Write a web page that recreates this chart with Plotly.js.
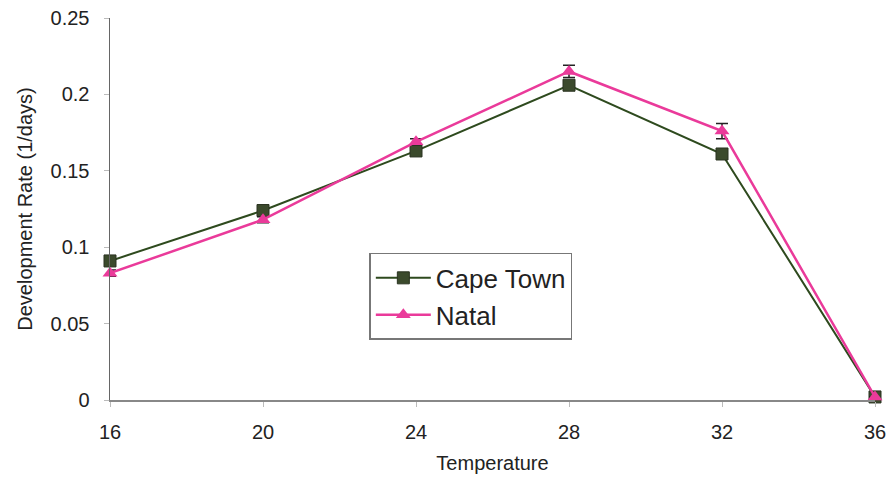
<!DOCTYPE html>
<html>
<head>
<meta charset="utf-8">
<script src="https://cdn.plot.ly/plotly-3.0.1.min.js"></script>
<style>body{margin:0;background:#fff}#chart{width:890px;height:478px}</style>
</head>
<body>
<div id="chart"></div>
<script>
const temperature = [16, 20, 24, 28, 32, 36];
const capeTown = [0.091, 0.124, 0.163, 0.206, 0.161, 0.002];
const natal = [0.083, 0.118, 0.169, 0.215, 0.176, 0.002];
const natalErr = [0.002, 0.002, 0.002, 0.004, 0.005, 0];
const xTicks = [16, 20, 24, 28, 32, 36];
const yTicks = [0, 0.05, 0.1, 0.15, 0.2, 0.25];

const traces = [
  {
    x: temperature, y: capeTown, name: 'Cape Town', type: 'scatter', mode: 'lines+markers',
    line: {color: '#2e4a1e', width: 2},
    marker: {symbol: 'square', size: 12, color: '#3b4a2c', line: {color: '#2a3320', width: 1}},
    cliponaxis: false
  },
  {
    x: temperature, y: natal, name: 'Natal', type: 'scatter', mode: 'lines+markers',
    line: {color: '#ea3a9a', width: 2.5},
    marker: {symbol: 'triangle-up', size: 13, color: '#ea3a9a'},
    error_y: {type: 'data', array: natalErr, symmetric: true, color: '#222', thickness: 1.5, width: 6},
    cliponaxis: false
  }
];

const layout = {
  width: 890, height: 478,
  margin: {l: 110, r: 15, t: 18, b: 78},
  paper_bgcolor: '#fff', plot_bgcolor: '#fff',
  font: {family: 'Liberation Sans, Arial, sans-serif', color: '#222'},
  showlegend: true,
  legend: {
    x: 0.339, y: 0.385, xanchor: 'left', yanchor: 'top',
    bordercolor: '#777', borderwidth: 1.5, bgcolor: '#fff',
    font: {size: 26, color: '#222'}, tracegroupgap: 0, itemwidth: 55
  },
  xaxis: {
    range: [16, 36], tickvals: xTicks, ticktext: xTicks.map(String),
    showgrid: false, zeroline: false, showline: true, linecolor: '#888', linewidth: 1.5,
    ticks: 'outside', ticklen: 5, tickcolor: '#bbb', ticklabelstandoff: 8,
    tickfont: {size: 20, color: '#222'},
    title: {text: 'Temperature', font: {size: 20, color: '#222'}, standoff: 14}
  },
  yaxis: {
    range: [0, 0.25], tickvals: yTicks, ticktext: ['0', '0.05', '0.1', '0.15', '0.2', '0.25'],
    showgrid: false, zeroline: false, showline: true, linecolor: '#666', linewidth: 1.5,
    ticks: 'outside', ticklen: 5, tickcolor: '#bbb', ticklabelstandoff: 10,
    tickfont: {size: 20, color: '#222'},
    title: {text: 'Development Rate (1/days)', font: {size: 20, color: '#222'}, standoff: 12}
  }
};

Plotly.newPlot('chart', traces, layout, {displayModeBar: false, staticPlot: true});
</script>
</body>
</html>
